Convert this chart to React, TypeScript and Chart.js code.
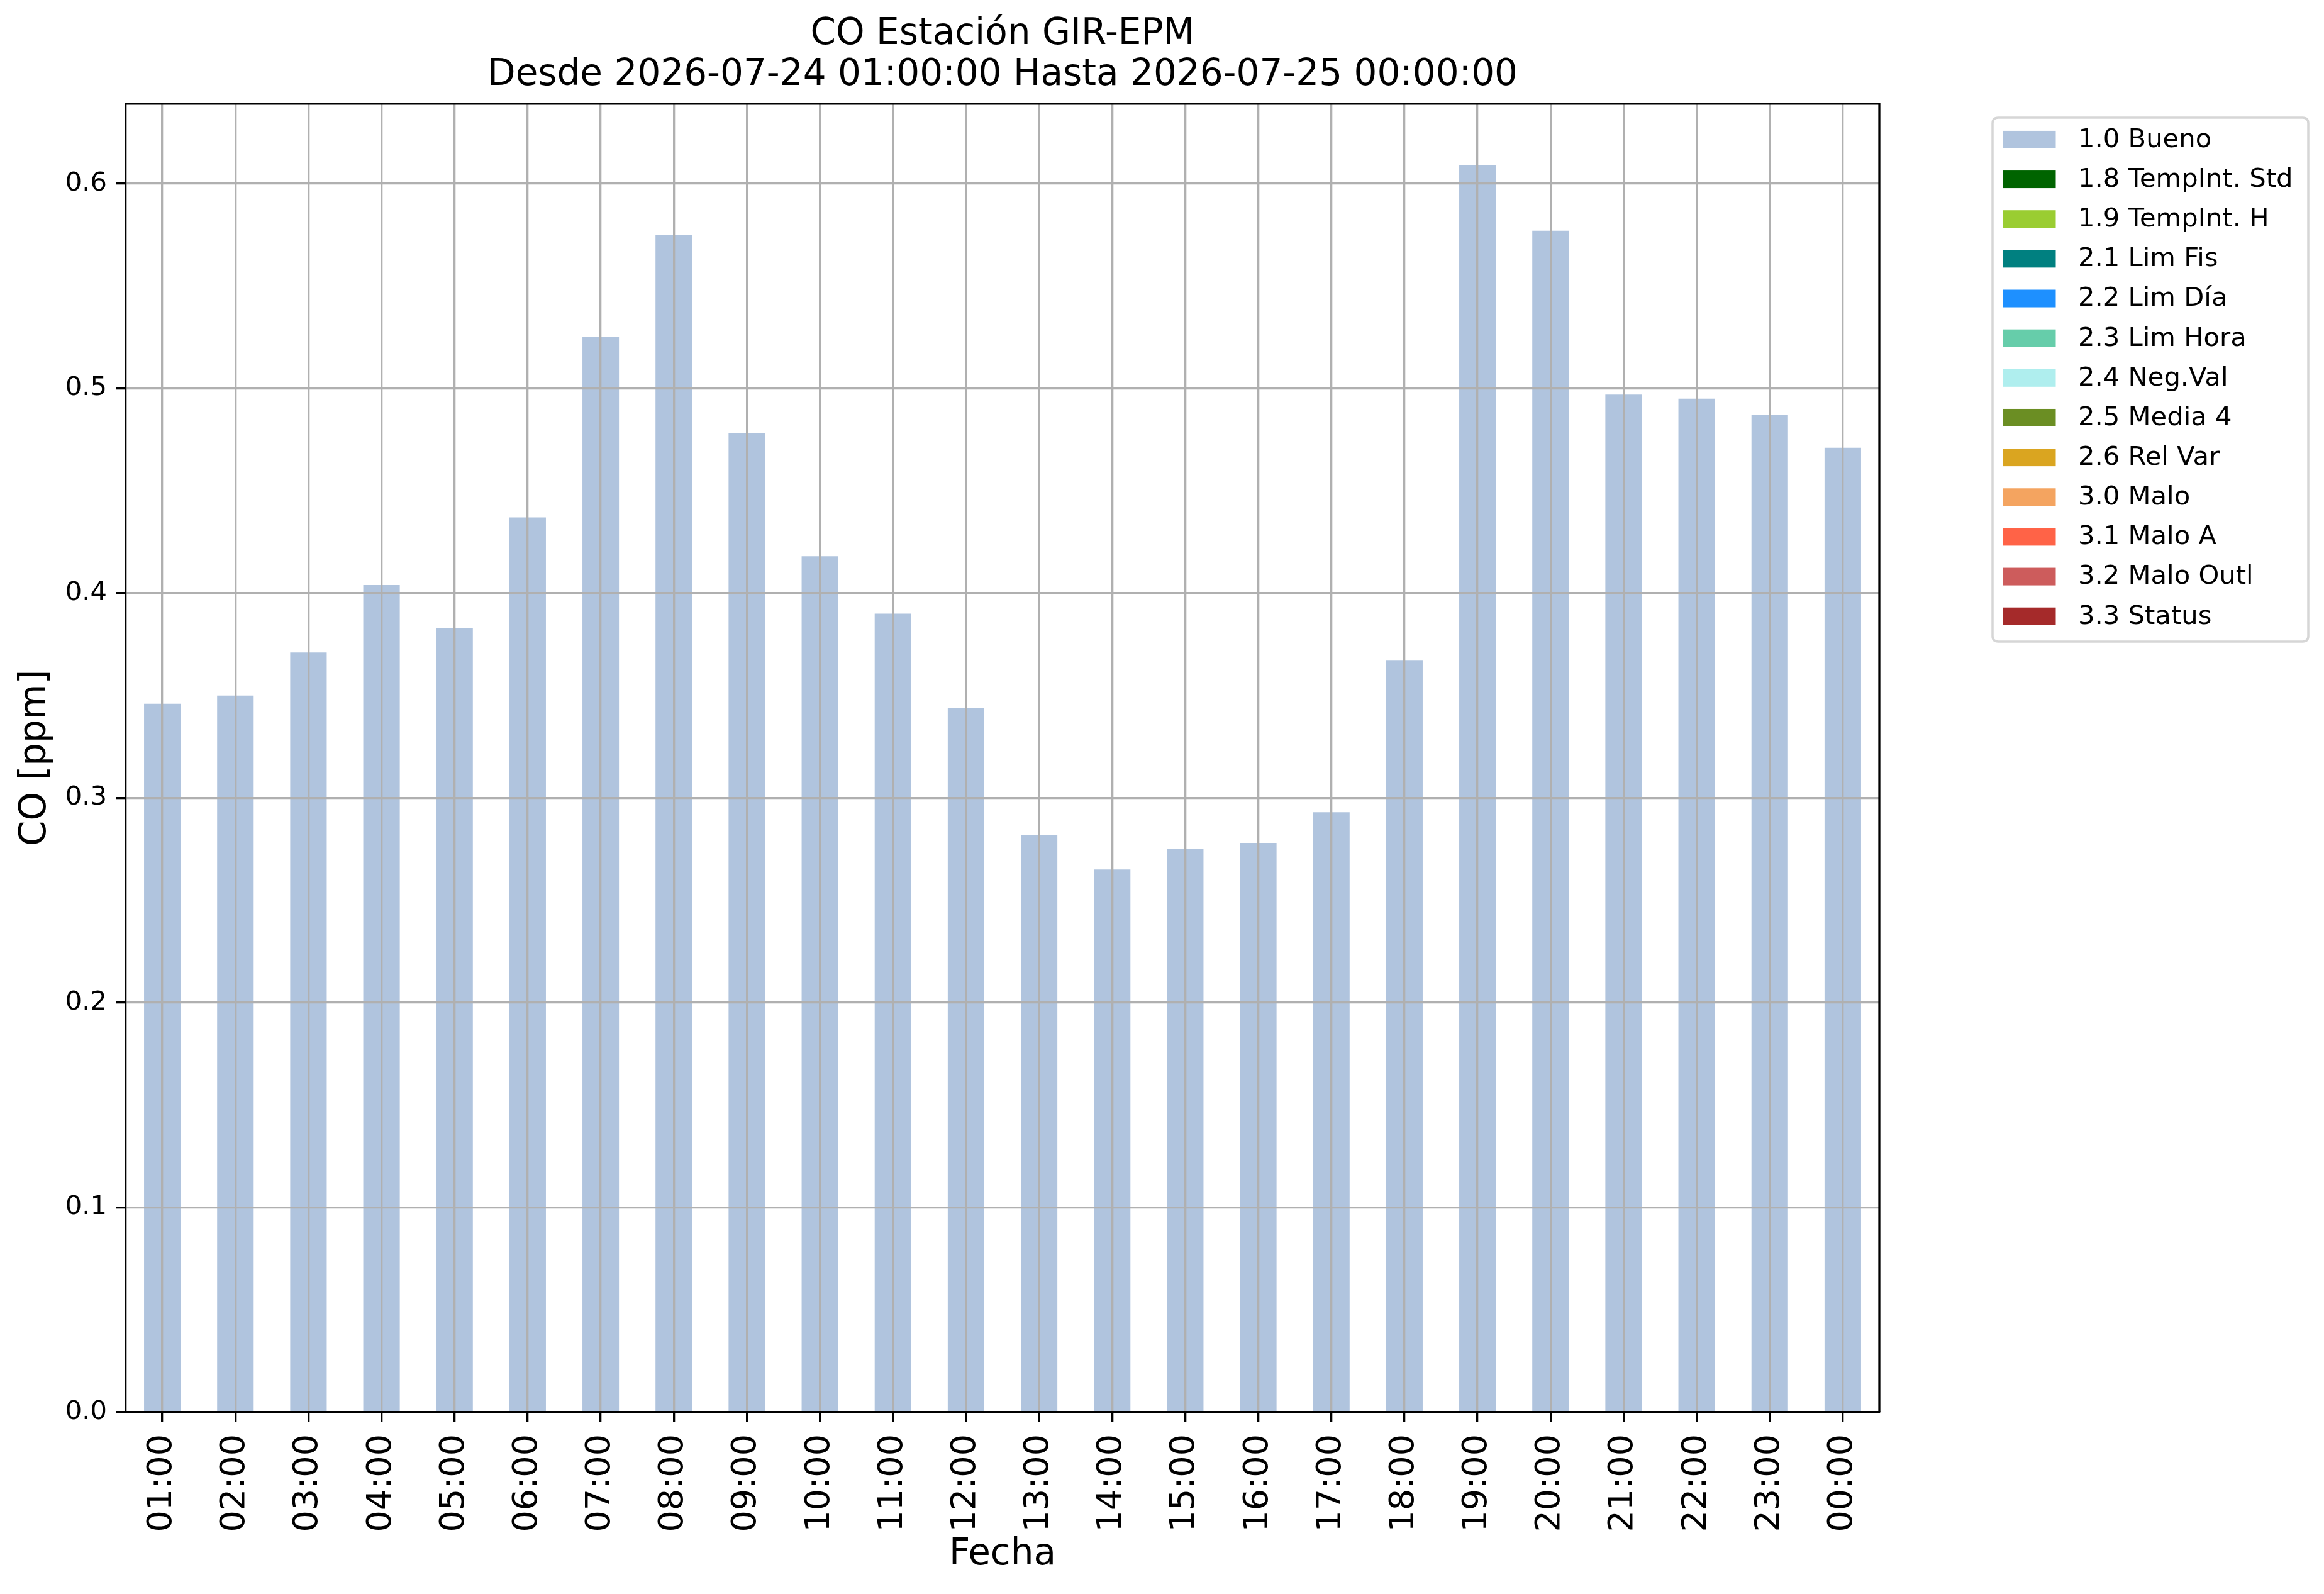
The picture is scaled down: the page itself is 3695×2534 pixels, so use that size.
import React, { useEffect, useRef } from 'react';
import { Chart, registerables } from 'chart.js';

Chart.register(...registerables);

// ---------- data ----------
const categories = [
  '01:00', '02:00', '03:00', '04:00', '05:00', '06:00', '07:00', '08:00',
  '09:00', '10:00', '11:00', '12:00', '13:00', '14:00', '15:00', '16:00',
  '17:00', '18:00', '19:00', '20:00', '21:00', '22:00', '23:00', '00:00',
];

const coValues = [
  0.346, 0.350, 0.371, 0.404, 0.383, 0.437, 0.525, 0.575,
  0.478, 0.418, 0.390, 0.344, 0.282, 0.265, 0.275, 0.278,
  0.293, 0.367, 0.609, 0.577, 0.497, 0.495, 0.487, 0.471,
];

const flagLabels = [
  '1.0 Bueno', '1.8 TempInt. Std', '1.9 TempInt. H', '2.1 Lim Fis',
  '2.2 Lim Día', '2.3 Lim Hora', '2.4 Neg.Val', '2.5 Media 4',
  '2.6 Rel Var', '3.0 Malo', '3.1 Malo A', '3.2 Malo Outl', '3.3 Status',
];

const flagColors = [
  '#b0c4de', '#006400', '#9acd32', '#008080',
  '#1e90ff', '#66cdaa', '#afeeee', '#6b8e23',
  '#daa520', '#f4a460', '#ff6347', '#cd5c5c', '#a52a2a',
];

const yTicks = [0, 0.1, 0.2, 0.3, 0.4, 0.5, 0.6];
const yTickLabels = ['0.0', '0.1', '0.2', '0.3', '0.4', '0.5', '0.6'];
const yMax = 0.639;

const titleLines = ['CO Estación GIR-EPM', 'Desde 2026-07-24 01:00:00 Hasta 2026-07-25 00:00:00'];
const xAxisTitle = 'Fecha';
const yAxisTitle = 'CO [ppm]';

// ---------- styles ----------
const FONT = 'DejaVu Sans';
const W = 3695;
const H = 2534;
const LW = 3.3;

const framePlugin = {
  id: 'axesFrame',
  beforeDraw(chart: any) {
    const { ctx } = chart;
    ctx.save();
    ctx.fillStyle = '#ffffff';
    ctx.fillRect(0, 0, chart.width, chart.height);
    ctx.restore();
  },
  afterDraw(chart: any) {
    const { ctx, chartArea } = chart;
    ctx.save();
    ctx.strokeStyle = '#000000';
    ctx.lineWidth = LW;
    ctx.beginPath();
    ctx.moveTo(chartArea.left, chartArea.top);
    ctx.lineTo(chartArea.right, chartArea.top);
    ctx.lineTo(chartArea.right, chartArea.bottom);
    ctx.stroke();
    ctx.restore();
  },
};

const legendPlugin = {
  id: 'mplLegend',
  afterDraw(chart: any) {
    const { ctx, chartArea } = chart;
    const ds = chart.data.datasets;
    const left = chartArea.right + 180;
    const top = chartArea.top + 22;
    const width = 502;
    const height = 833;
    const r = 9;
    ctx.save();
    ctx.beginPath();
    ctx.moveTo(left + r, top);
    ctx.lineTo(left + width - r, top);
    ctx.quadraticCurveTo(left + width, top, left + width, top + r);
    ctx.lineTo(left + width, top + height - r);
    ctx.quadraticCurveTo(left + width, top + height, left + width - r, top + height);
    ctx.lineTo(left + r, top + height);
    ctx.quadraticCurveTo(left, top + height, left, top + height - r);
    ctx.lineTo(left, top + r);
    ctx.quadraticCurveTo(left, top, left + r, top);
    ctx.closePath();
    ctx.fillStyle = '#ffffff';
    ctx.fill();
    ctx.lineWidth = 3.5;
    ctx.strokeStyle = '#d6d6d6';
    ctx.stroke();
    const rowStart = top + 35;
    const rowGap = 63.15;
    ctx.font = `41.7px "${FONT}"`;
    ctx.textBaseline = 'middle';
    ctx.textAlign = 'left';
    ds.forEach((d: any, i: number) => {
      const cy = rowStart + i * rowGap;
      ctx.fillStyle = d.backgroundColor;
      ctx.fillRect(left + 16.5, cy - 14, 84, 28);
      ctx.fillStyle = '#000000';
      ctx.fillText(d.label, left + 136, cy + 1);
    });
    ctx.restore();
  },
};

export default function App() {
  const canvasRef = useRef<HTMLCanvasElement | null>(null);

  useEffect(() => {
    const canvas = canvasRef.current;
    if (!canvas) return;

    const datasets = flagLabels.map((label, i) => ({
      label,
      data: i === 0 ? coValues : categories.map(() => null),
      backgroundColor: flagColors[i],
      borderWidth: 0,
      barPercentage: 0.5,
      categoryPercentage: 1.0,
    }));

    const chart = new Chart(canvas, {
      type: 'bar',
      data: { labels: categories, datasets },
      options: {
        animation: false,
        responsive: false,
        maintainAspectRatio: false,
        devicePixelRatio: 1,
        layout: { padding: { left: 0, top: 0, right: 707, bottom: 0 } },
        plugins: {
          legend: { display: false },
          tooltip: { enabled: false },
          title: {
            display: true,
            text: titleLines,
            fullSize: false,
            color: '#000000',
            font: { family: FONT, size: 58, weight: 'normal', lineHeight: 1.12 },
            padding: { top: 22, bottom: 13 },
          },
        },
        scales: {
          x: {
            stacked: true,
            offset: true,
            afterFit: (s: any) => { s.height = H - 2245; },
            grid: {
              display: true,
              offset: false,
              z: 1,
              color: '#b0b0b0',
              lineWidth: LW,
              drawTicks: true,
              tickLength: 15,
              tickColor: '#000000',
              tickWidth: LW,
            },
            border: { display: true, color: '#000000', width: LW, z: 2 },
            ticks: {
              autoSkip: false,
              maxRotation: 90,
              minRotation: 90,
              padding: 20,
              color: '#000000',
              font: { family: FONT, size: 54 },
            },
            title: {
              display: true,
              text: xAxisTitle,
              color: '#000000',
              font: { family: FONT, size: 58, lineHeight: 1.2 },
              padding: { top: 0, bottom: 27.5 },
            },
          },
          y: {
            stacked: true,
            min: 0,
            max: yMax,
            afterFit: (s: any) => { s.width = 200; },
            afterBuildTicks: (s: any) => { s.ticks = yTicks.map((v) => ({ value: v })); },
            grid: {
              display: true,
              z: 1,
              color: '#b0b0b0',
              lineWidth: LW,
              drawTicks: true,
              tickLength: 15,
              tickColor: '#000000',
              tickWidth: LW,
            },
            border: { display: true, color: '#000000', width: LW, z: 2 },
            ticks: {
              includeBounds: false,
              padding: 15,
              color: '#000000',
              font: { family: FONT, size: 41.7 },
              callback: (_v: any, i: number) => yTickLabels[i],
            },
            title: {
              display: true,
              text: yAxisTitle,
              color: '#000000',
              font: { family: FONT, size: 58, lineHeight: 1.2 },
              padding: { top: 22, bottom: 0 },
            },
          },
        },
      } as any,
      plugins: [framePlugin, legendPlugin],
    });

    return () => chart.destroy();
  }, []);

  return (
    <div style={{ position: 'absolute', left: 0, top: 0, width: W, height: H, background: '#ffffff' }}>
      <canvas ref={canvasRef} width={W} height={H} style={{ display: 'block', width: W, height: H }} />
    </div>
  );
}
